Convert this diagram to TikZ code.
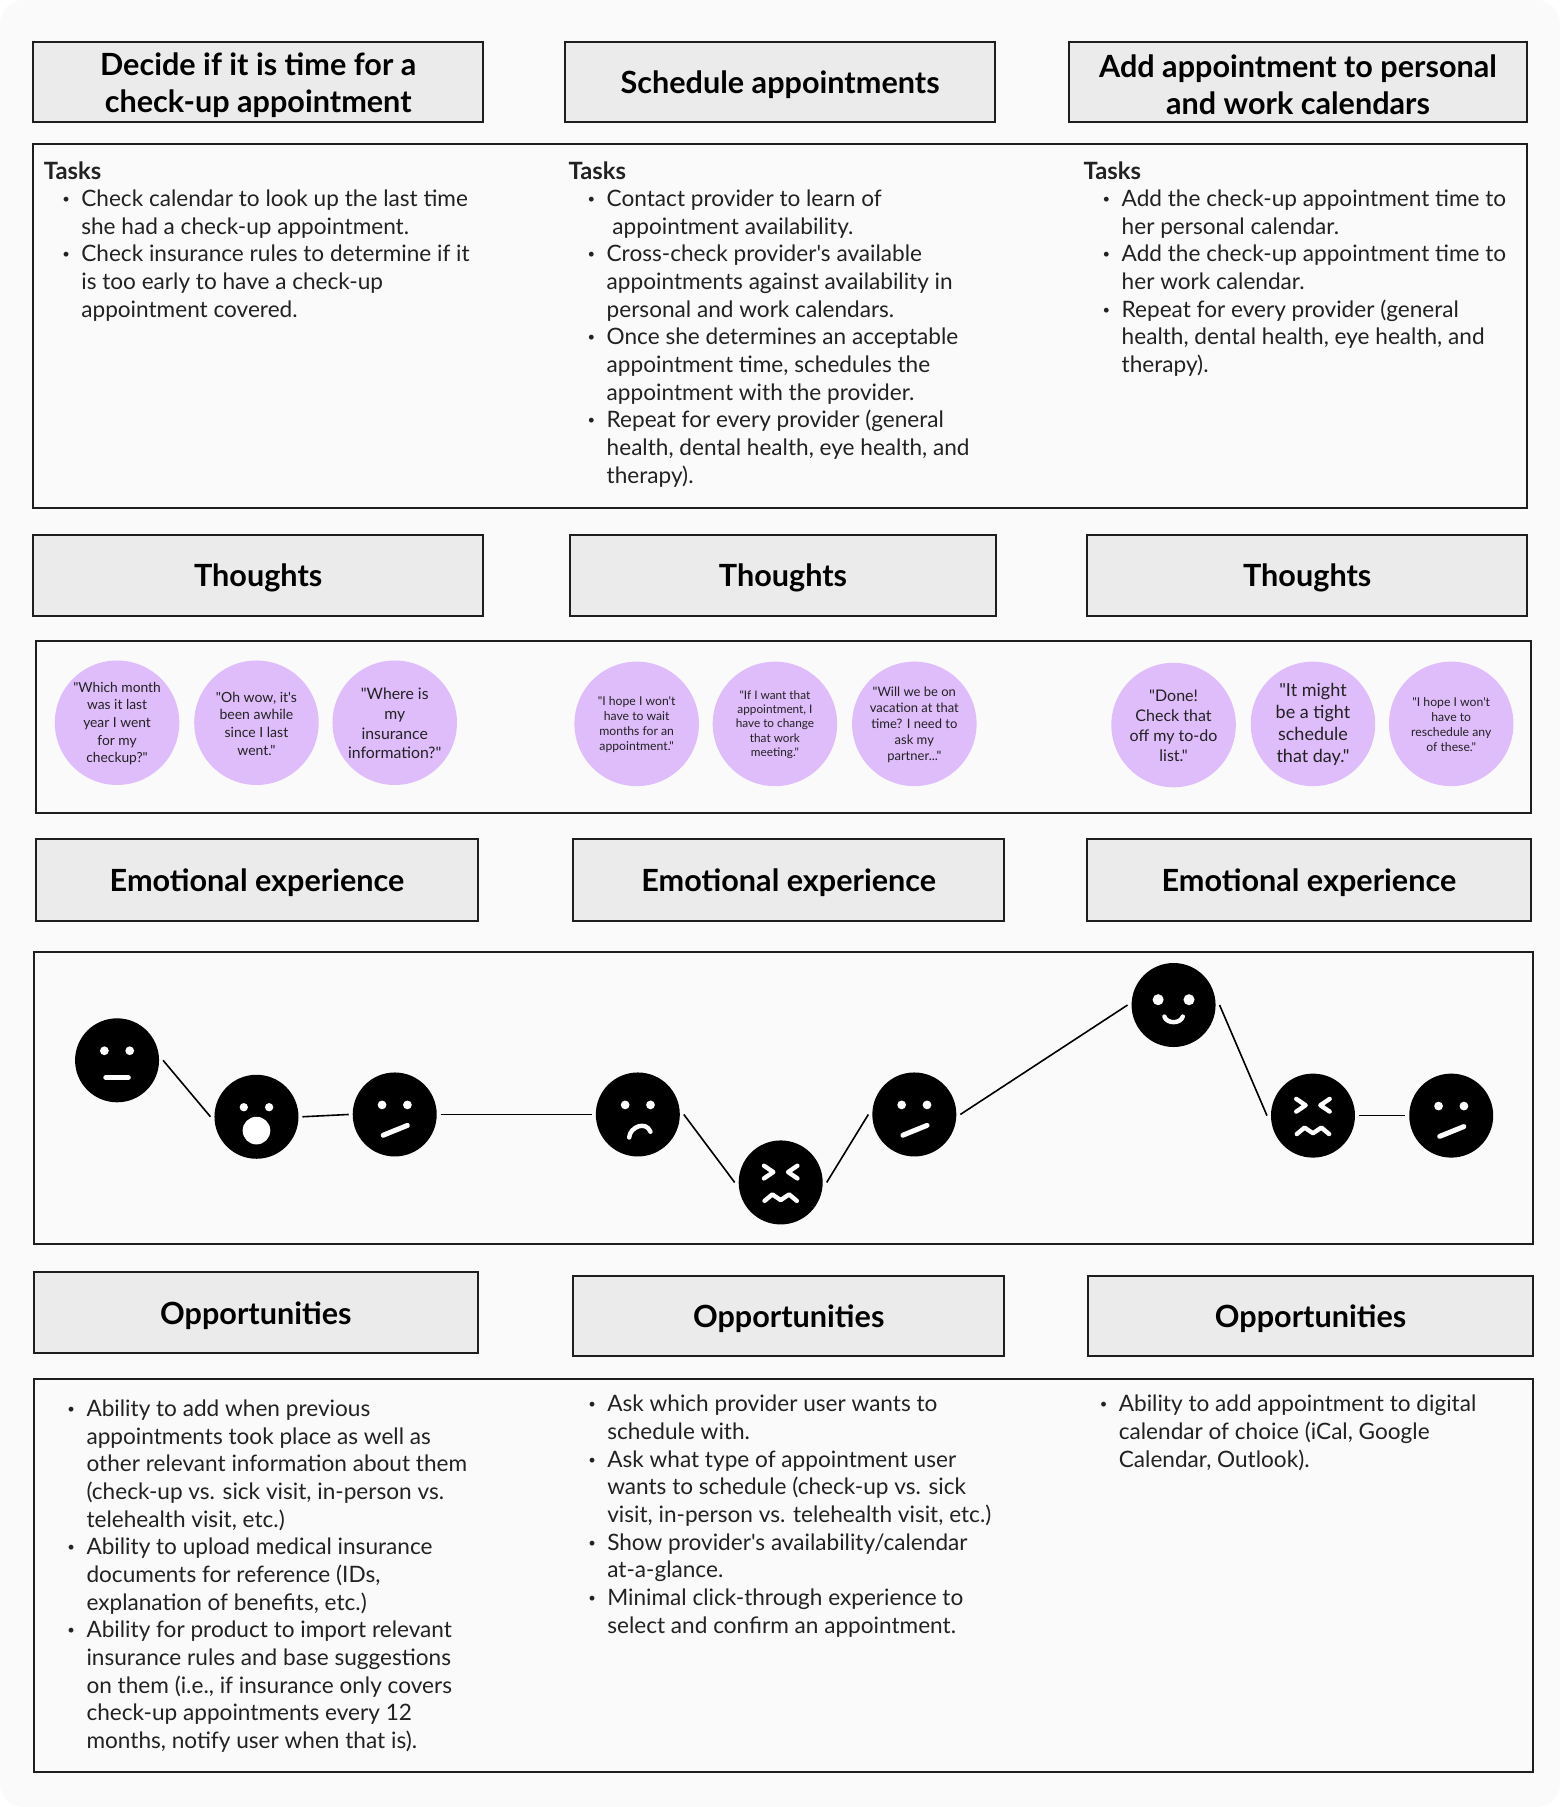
\documentclass[tikz,border=0pt]{standalone}
\usepackage{fontspec}
\setmainfont{Lato}[Ligatures=TeXOff]
\definecolor{bgc}{HTML}{FAFAFA}
\definecolor{hdrc}{HTML}{EBEBEB}
\definecolor{linec}{HTML}{1E1E1E}
\definecolor{txtc}{HTML}{222222}
\definecolor{lilac}{HTML}{DFBCFA}
\newcommand{\bodyfont}{\fontsize{22.6}{27.65}\selectfont}
\newcommand{\bul}{\leavevmode\llap{\raisebox{3pt}{\fontsize{13}{13}\selectfont •}\hspace{11.5pt}}}
\newcommand{\ind}[1]{\hspace*{#1\dimexpr1.15214pt\relax}}
\newcommand{\tasks}{\strut{\fontsize{23.8}{27.65}\bfseries\selectfont Tasks}}
\newcommand{\hdr}[6]{\node[hdrbox,minimum width={(#4-#2)*1.15214pt},minimum height={(#5-#3)*1.15214pt}] (#1) at ({(#2+#4)/2},{(#3+#5)/2}) {};
\node[hdrtext] (#1t) at ({(#2+#4)/2},{(#3+#5)/2+2.6}) {#6};}
\newcommand{\panel}[5]{\node[panelbox,minimum width={(#4-#2)*1.15214pt},minimum height={(#5-#3)*1.15214pt}] (#1) at ({(#2+#4)/2},{(#3+#5)/2}) {};}
\newcommand{\thought}[5]{\node[bubble,font=\fontsize{#4}{#5}\selectfont] (#1) at (#2) {};
\node[bubbletext,font=\fontsize{#4}{#5}\selectfont] (#1t) at ([yshift=-0.8pt]#1.center) {#3};}
\newcommand{\eyes}[2][11]{\fill[white] (-#1,-8.3) ellipse (#2 and #2) (#1,-8.3) ellipse (#2 and #2);}
\tikzset{
  hdrbox/.style={draw=linec,line width=2pt,fill=hdrc,inner sep=0pt,outer sep=0pt},
  hdrtext/.style={inner sep=0pt,outer sep=0pt,align=center,text=black,font=\fontsize{30.6}{36.9}\bfseries\selectfont},
  panelbox/.style={draw=linec,line width=2pt,fill=bgc,inner sep=0pt,outer sep=0pt},
  bubble/.style={circle,fill=lilac,minimum size=124.5pt,inner sep=0pt,outer sep=0pt},
  bubbletext/.style={inner sep=0pt,outer sep=0pt,align=center,text=txtc},
  listtext/.style={anchor=north west,inner sep=0pt,outer sep=0pt,align=left,text=txtc,font=\bodyfont},
  facenode/.style={circle,fill=black,minimum size=84pt,inner sep=0pt,outer sep=4pt},
  link/.style={draw=black,line width=1.6pt},
  feat/.style={draw=white,line width=5pt,line cap=round,line join=round},
  featthin/.style={draw=white,line width=4.4pt,line cap=round,line join=round}
}
\begin{document}
\begin{tikzpicture}[x=1.15214pt,y=-1.15214pt]
\useasboundingbox (0,0) rectangle (1354,1568.4);
\fill[white] (0,0) rectangle (1354,1568.4);
\fill[bgc,rounded corners=24pt] (0,0) rectangle (1354,1568.4);
\begin{scope}[shift={(0.6,0.3)}]

% Row 1
\hdr{h1}{28}{36}{419}{106}{Decide if it is time for a\\check-up appointment}
\hdr{h2}{490}{36}{863}{106}{Schedule appointments}
\hdr{h3}{927}{36}{1325}{106}{Add appointment to personal\\and work calendars}
\panel{tasks}{28}{125}{1325}{441}

\node[listtext] (t1) at (37.5,138.3) {\tasks\\
\ind{32.5}\bul Check calendar to look up the last time\\
\ind{32.5}she had a check-up appointment.\\
\ind{32.5}\bul Check insurance rules to determine if it\\
\ind{32.5}is too early to have a check-up\\
\ind{32.5}appointment covered.};

\node[listtext] (t2) at (493,138.3) {\tasks\\
\ind{33}\bul Contact provider to learn of\\
\ind{38}appointment availability.\\
\ind{33}\bul Cross-check provider's available\\
\ind{33}appointments against availability in\\
\ind{33}personal and work calendars.\\
\ind{33}\bul Once she determines an acceptable\\
\ind{33}appointment time, schedules the\\
\ind{33}appointment with the provider.\\
\ind{33}\bul Repeat for every provider (general\\
\ind{33}health, dental health, eye health, and\\
\ind{33}therapy).};

\node[listtext] (t3) at (940,138.3) {\tasks\\
\ind{33}\bul Add the check-up appointment time to\\
\ind{33}her personal calendar.\\
\ind{33}\bul Add the check-up appointment time to\\
\ind{33}her work calendar.\\
\ind{33}\bul Repeat for every provider (general\\
\ind{33}health, dental health, eye health, and\\
\ind{33}therapy).};

% Row 2
\hdr{th1}{28}{464}{419}{534}{Thoughts}
\hdr{th2}{494}{464}{864}{534}{Thoughts}
\hdr{th3}{943}{464}{1325}{534}{Thoughts}
\panel{thbox}{31}{556}{1328}{705}

\thought{b1}{101,627}{"Which month\\was it last\\year I went\\for my\\checkup?"}{13.8}{17.6}
\thought{b2}{222,627}{"Oh wow, it's\\been awhile\\since I last\\went."}{14}{17.6}
\thought{b3}{342,627}{"Where is\\my\\insurance\\information?"}{15.8}{19.8}
\thought{b4}{552,628}{"I hope I won't\\have to wait\\months for an\\appointment."}{12.2}{15.2}
\thought{b5}{672,628}{"If I want that\\appointment, I\\have to change\\that work\\meeting."}{11.8}{14.4}
\thought{b6}{793,628}{"Will we be on\\vacation at that\\time? I need to\\ask my\\partner..."}{13}{16}
\thought{b7}{1018,629}{"Done!\\Check that\\off my to-do\\list."}{16}{19.8}
\thought{b8}{1139,628}{"It might\\be a tight\\schedule\\that day."}{18}{22}
\thought{b9}{1259,628}{"I hope I won't\\have to\\reschedule any\\of these."}{12.2}{15.2}

% Row 3
\hdr{em1}{31}{728}{414}{799}{Emotional experience}
\hdr{em2}{497}{728}{871}{799}{Emotional experience}
\hdr{em3}{943}{728}{1328}{799}{Emotional experience}
\panel{embox}{29}{826}{1330}{1079}

\node[facenode] (f1) at (101,920) {};
\node[facenode] (f2) at (222,969) {};
\node[facenode] (f3) at (342,967) {};
\node[facenode] (f4) at (553,967) {};
\node[facenode] (f5) at (677,1026) {};
\node[facenode] (f6) at (793,967) {};
\node[facenode] (f7) at (1018,872) {};
\node[facenode] (f8) at (1139,968) {};
\node[facenode] (f9) at (1259,968) {};

\draw[link] (f1.east) -- (f2.west);
\draw[link] (f2.east) -- (f3.west);
\draw[link] (f3.east) -- (f4.west);
\draw[link] (f4.east) -- (f5.west);
\draw[link] (f5.east) -- (f6.west);
\draw[link] (f6.east) -- (f7.west);
\draw[link] (f7.east) -- (f8.west);
\draw[link] (f8.east) -- (f9.west);

% neutral
\begin{scope}[shift={(f1.center)}]
  \eyes{3.8}
  \draw[feat] (-9.8,15) -- (9.8,15);
\end{scope}
% surprised
\begin{scope}[shift={(f2.center)}]
  \eyes{3.6}
  \fill[white] (0,12) circle (12);
\end{scope}
% skeptical
\foreach \f in {f3,f6,f9}{
\begin{scope}[shift={(\f.center)}]
  \eyes{3.8}
  \draw[feat] (-10,18) -- (11,9.5);
\end{scope}}
% sad
\begin{scope}[shift={(f4.center)}]
  \eyes{3.8}
  \draw[featthin] (-7.5,20) .. controls (-7,11) and (7,5) .. (11,15);
\end{scope}
% anxious
\foreach \f in {f5,f8}{
\begin{scope}[shift={(\f.center)}]
  \draw[featthin] (-14.5,-14.5) -- (-6.4,-9) -- (-14.5,-3.5);
  \draw[featthin] (14.5,-14.5) -- (6.4,-9) -- (14.5,-3.5);
  \draw[featthin] (-14,16) -- (-7.3,10.4) -- (0,15.3) -- (7.3,10.4) -- (14,16);
\end{scope}}
% happy
\begin{scope}[shift={(f7.center)}]
  \fill[white] (-13.4,-4.6) circle (4.8) (13.4,-4.6) circle (4.8);
  \draw[featthin] (-8,10) .. controls (-6,16.5) and (6,16.5) .. (8,10);
\end{scope}

% Row 4
\hdr{op1}{29}{1104}{414}{1174}{Opportunities}
\hdr{op2}{497}{1107}{871}{1177}{Opportunities}
\hdr{op3}{944}{1107}{1330}{1177}{Opportunities}
\panel{opbox}{29}{1197}{1330}{1538}

\node[listtext] (o1) at (74.5,1212.4) {\strut\bul Ability to add when previous\\
appointments took place as well as\\
other relevant information about them\\
(check-up vs. sick visit, in-person vs.\\
telehealth visit, etc.)\\
\bul Ability to upload medical insurance\\
documents for reference (IDs,\\
explanation of benefits, etc.)\\
\bul Ability for product to import relevant\\
insurance rules and base suggestions\\
on them (i.e., if insurance only covers\\
check-up appointments every 12\\
months, notify user when that is).};

\node[listtext] (o2) at (526.5,1208.4) {\strut\bul Ask which provider user wants to\\
schedule with.\\
\bul Ask what type of appointment user\\
wants to schedule (check-up vs. sick\\
visit, in-person vs. telehealth visit, etc.)\\
\bul Show provider's availability/calendar\\
at-a-glance.\\
\bul Minimal click-through experience to\\
select and confirm an appointment.};

\node[listtext] (o3) at (970.5,1208.4) {\strut\bul Ability to add appointment to digital\\
calendar of choice (iCal, Google\\
Calendar, Outlook).};
\end{scope}
\end{tikzpicture}
\end{document}
